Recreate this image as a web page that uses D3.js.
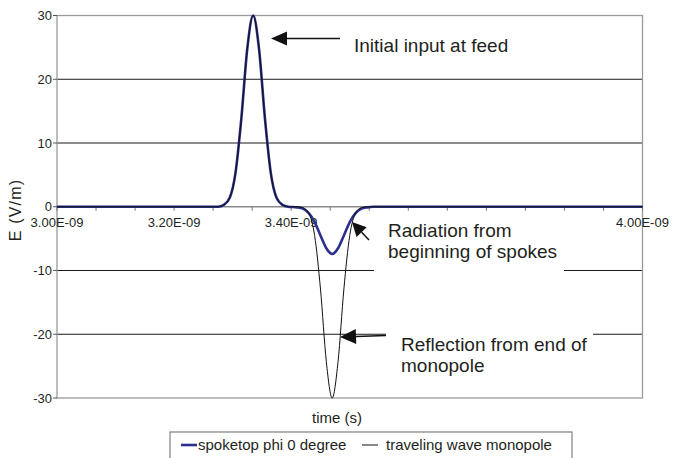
<!DOCTYPE html>
<html>
<head>
<meta charset="utf-8">
<script src="https://cdn.jsdelivr.net/npm/d3@7"></script>
<style>
  body { margin: 0; background: #fff; }
  svg { display: block; font-family: "Liberation Sans", Arial, sans-serif; }
</style>
</head>
<body>
<div id="chart"></div>
<script>
// E field at the spoke top vs. traveling wave monopole (time in ns)
const timeNs = [3.000, 3.275, 3.285, 3.295, 3.305, 3.315, 3.325, 3.335, 3.345, 3.355, 3.365, 3.375, 3.385, 3.395,
  3.41, 3.42, 3.43, 3.44, 3.45, 3.46, 3.47, 3.48, 3.49, 3.50, 3.51, 3.52, 3.53, 3.54, 4.000];
const spoketop = [0, 0, 0.3, 1.4, 5.4, 14.0, 24.8, 30, 24.8, 14.0, 5.4, 1.4, 0.3, 0,
  -0.1, -0.3, -1.0, -2.4, -4.5, -6.5, -7.4, -6.5, -4.5, -2.4, -1.0, -0.3, -0.1, 0, 0];
const monopole = [0, 0, 0.3, 1.4, 5.4, 14.0, 24.8, 30, 24.8, 14.0, 5.4, 1.4, 0.3, 0,
  0, -0.15, -1.0, -4.5, -12.9, -24.3, -30, -24.3, -12.9, -4.5, -1.0, -0.15, 0, 0, 0];

const seriesNames = ["spoketop phi 0 degree", "traveling wave monopole"];
// 3.60E-09 and 3.80E-09 are hidden behind the annotation box in the original
const xTickValues = [3.0, 3.2, 3.4, 4.0];
const xTickLabels = ["3.00E-09", "3.20E-09", "3.40E-09", "4.00E-09"];
const yTickValues = [-30, -20, -10, 0, 10, 20, 30];

const width = 688;
const height = 458;
const margin = { left: 57, right: 45.5, top: 15.5, bottom: 60 };
const blue = "#2b2f8e";
const textColor = "#231f20";

const svg = d3.select("#chart")
  .append("svg")
  .attr("width", width)
  .attr("height", height);

const x = d3.scaleLinear()
  .domain([3.0, 4.0])
  .range([margin.left, width - margin.right]);

const y = d3.scaleLinear()
  .domain([-30, 30])
  .range([height - margin.bottom, margin.top]);

// gridlines (inner ones are dark, the frame is grey)
svg.append("g")
  .selectAll("line")
  .data(yTickValues.filter(v => Math.abs(v) !== 30 && v !== 0))
  .enter()
  .append("line")
  .attr("x1", x(3.0)).attr("x2", x(4.0))
  .attr("y1", d => y(d)).attr("y2", d => y(d))
  .attr("stroke", "#1a1a1a")
  .attr("stroke-width", 1);

svg.append("rect")
  .attr("x", x(3.0)).attr("y", y(30))
  .attr("width", x(4.0) - x(3.0)).attr("height", y(-30) - y(30))
  .attr("fill", "none")
  .attr("stroke", "#9a9a9a")
  .attr("stroke-width", 1.3);

// zero axis with small ticks
svg.append("line")
  .attr("x1", x(3.0)).attr("x2", x(4.0))
  .attr("y1", y(0)).attr("y2", y(0))
  .attr("stroke", "#8a8a8a")
  .attr("stroke-width", 1.3);

svg.append("g")
  .selectAll("line")
  .data(d3.range(16).map(i => 3.0 + i / 15))
  .enter()
  .append("line")
  .attr("x1", d => x(d)).attr("x2", d => x(d))
  .attr("y1", y(0)).attr("y2", y(0) + 4)
  .attr("stroke", "#777");

// left axis ticks and labels
svg.append("g")
  .selectAll("line")
  .data(yTickValues)
  .enter()
  .append("line")
  .attr("x1", x(3.0) - 4).attr("x2", x(3.0))
  .attr("y1", d => y(d)).attr("y2", d => y(d))
  .attr("stroke", "#555");

svg.append("g")
  .selectAll("text")
  .data(yTickValues)
  .enter()
  .append("text")
  .attr("x", x(3.0) - 5)
  .attr("y", d => y(d))
  .attr("dy", "0.36em")
  .attr("text-anchor", "end")
  .attr("fill", textColor)
  .style("font-size", "13px")
  .text(d => d);

// x tick labels sit just under the zero line
svg.append("g")
  .selectAll("text")
  .data(xTickValues)
  .enter()
  .append("text")
  .attr("x", d => x(d))
  .attr("y", y(0) + 20)
  .attr("text-anchor", "middle")
  .attr("fill", textColor)
  .style("font-size", "13px")
  .text((d, i) => xTickLabels[i]);

// axis titles
svg.append("text")
  .attr("transform", "translate(21," + 210 + ") rotate(-90)")
  .attr("text-anchor", "middle")
  .attr("fill", textColor)
  .style("font-size", "16px")
  .style("letter-spacing", "1.2px")
  .text("E (V/m)");

svg.append("text")
  .attr("x", 337)
  .attr("y", 423)
  .attr("text-anchor", "middle")
  .attr("fill", textColor)
  .style("font-size", "15px")
  .text("time (s)");

// the two series
const line = (values) => d3.line()
  .x((d, i) => x(timeNs[i]))
  .y(d => y(d))
  .curve(d3.curveMonotoneX)(values);

svg.append("path")
  .attr("d", line(spoketop))
  .attr("fill", "none")
  .attr("stroke", blue)
  .attr("stroke-width", 2.6);

svg.append("path")
  .attr("d", line(monopole))
  .attr("fill", "none")
  .attr("stroke", "#111")
  .attr("stroke-width", 1);

// white boxes behind the annotation texts
svg.append("rect").attr("x", 374).attr("y", 212).attr("width", 190).attr("height", 64).attr("fill", "#fff");
svg.append("rect").attr("x", 386).attr("y", 322).attr("width", 207).attr("height", 58).attr("fill", "#fff");

const notes = [
  { x: 354, y: 52, lines: ["Initial input at feed"] },
  { x: 388, y: 237, lines: ["Radiation from", "beginning of spokes"] },
  { x: 401, y: 351, lines: ["Reflection from end of", "monopole"] }
];

notes.forEach(n => {
  const t = svg.append("text")
    .attr("x", n.x)
    .attr("y", n.y)
    .attr("fill", textColor)
    .style("font-size", "19px");
  n.lines.forEach((s, i) => {
    t.append("tspan").attr("x", n.x).attr("dy", i === 0 ? 0 : 21).text(s);
  });
});

// arrows: tail -> tip
function arrow(x1, y1, x2, y2, len, half) {
  const a = Math.atan2(y2 - y1, x2 - x1);
  const bx = x2 - len * Math.cos(a);
  const by = y2 - len * Math.sin(a);
  svg.append("line")
    .attr("x1", x1).attr("y1", y1)
    .attr("x2", bx).attr("y2", by)
    .attr("stroke", "#111")
    .attr("stroke-width", 1.5);
  const px = -Math.sin(a) * half;
  const py = Math.cos(a) * half;
  svg.append("path")
    .attr("d", "M" + x2 + "," + y2 + "L" + (bx + px) + "," + (by + py) + "L" + (bx - px) + "," + (by - py) + "Z")
    .attr("fill", "#111");
}

arrow(340, 38.5, 271, 38.5, 16, 7);
arrow(369, 240, 352, 222, 14, 7);
arrow(386, 335.5, 340, 337, 16, 7.5);

// legend
const legend = svg.append("g");
legend.append("rect")
  .attr("x", 170).attr("y", 432)
  .attr("width", 402).attr("height", 40)
  .attr("fill", "#fff")
  .attr("stroke", "#8a8a8a")
  .attr("stroke-width", 1.3);

const legendItems = [
  { x: 181, color: blue, w: 2.6 },
  { x: 362, color: "#111", w: 1 }
];

legendItems.forEach((d, i) => {
  legend.append("line")
    .attr("x1", d.x).attr("x2", d.x + 16)
    .attr("y1", 445).attr("y2", 445)
    .attr("stroke", d.color)
    .attr("stroke-width", d.w);
  legend.append("text")
    .attr("x", d.x + 17 + (i === 1 ? 7 : 0))
    .attr("y", 450)
    .attr("fill", textColor)
    .style("font-size", "15px")
    .text(seriesNames[i]);
});
</script>
</body>
</html>
